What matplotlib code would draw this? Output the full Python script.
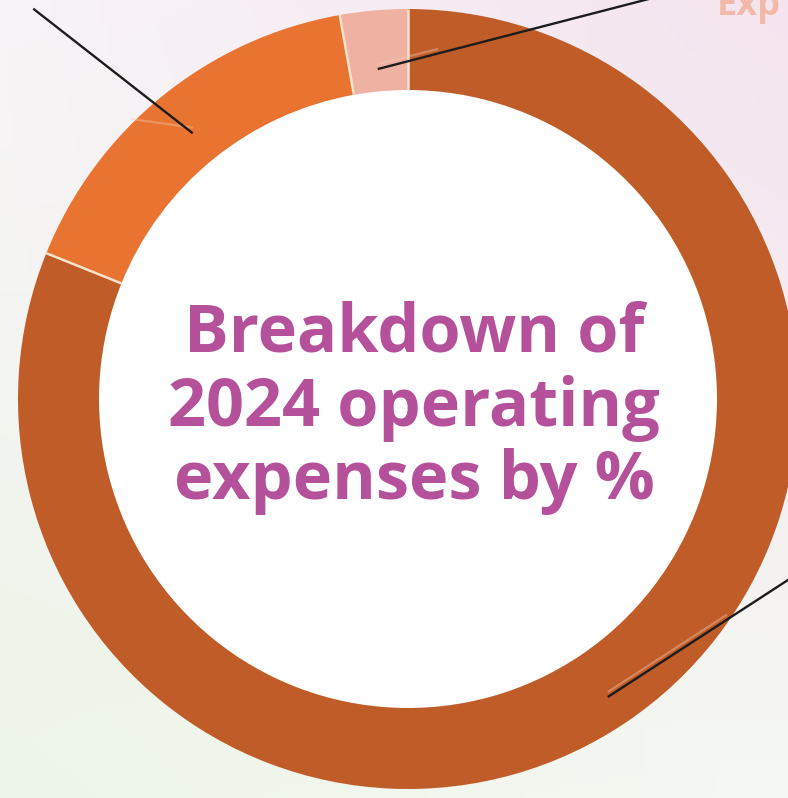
import numpy as np
import matplotlib.pyplot as plt
from matplotlib.colors import to_rgb
from matplotlib.patches import Circle

# expense shares (clockwise from 12 o'clock)
categories = ['Programs', 'Operations', 'Fundraising']
shares = [81.1, 16.1, 2.8]
colors = ['#c05c27', '#e97431', '#efb1a1']

title_lines = ['Breakdown of', '2024 operating', 'expenses by %']
side_label = 'Exp'

W, H = 788, 798
cx, cy = 408, H - 399
R_out, R_in = 390, 309

fig = plt.figure(figsize=(W / 100, H / 100), dpi=100)
ax = fig.add_axes([0, 0, 1, 1])

# soft background gradient (pinkish top right, greenish bottom left)
c_tl = np.array(to_rgb('#f8f4f7'))
c_tr = np.array(to_rgb('#f4e4ef'))
c_bl = np.array(to_rgb('#edf5e8'))
c_br = np.array(to_rgb('#f5f8f3'))
u = np.linspace(0, 1, 200)[None, :, None]
v = np.linspace(0, 1, 200)[:, None, None]
grad = (1 - v) * ((1 - u) * c_tl + u * c_tr) + v * ((1 - u) * c_bl + u * c_br)
ax.imshow(grad, extent=[0, W, 0, H], origin='upper', zorder=0, aspect='auto')

wedges, _ = ax.pie(shares, colors=colors, startangle=90, counterclock=False,
                   center=(cx, cy), radius=R_out,
                   wedgeprops=dict(width=R_out - R_in, linewidth=0))
for w in wedges:
    w.set_zorder(2)

# white hole
ax.add_patch(Circle((cx, cy), R_in, facecolor='white', edgecolor='none', zorder=1.5))

# thin cream separators between segments
for w in wedges:
    a = np.deg2rad(w.theta1)
    ax.plot([cx + R_in * np.cos(a), cx + R_out * np.cos(a)],
            [cy + R_in * np.sin(a), cy + R_out * np.sin(a)],
            color='#f7e2cc', lw=1.8, zorder=3, solid_capstyle='butt')

# leader lines towards labels outside the crop
anchor_frac = [0.92, 0.88, 0.85]
out_angle = [33, 142, 14.5]
out_len = [260, 200, 290]
ghost_angle = [33, 172, 14]
ghost_len = [140, 60, 60]
for w, f, oa, ol, ga, gl in zip(wedges, anchor_frac, out_angle, out_len,
                                ghost_angle, ghost_len):
    m = np.deg2rad((w.theta1 + w.theta2) / 2)
    x0, y0 = cx + f * R_out * np.cos(m), cy + f * R_out * np.sin(m)
    ax.plot([x0, x0 + gl * np.cos(np.deg2rad(ga))],
            [y0 + 5, y0 + 5 + gl * np.sin(np.deg2rad(ga))],
            color='#f3c9b0', lw=1.6, alpha=0.4, zorder=4)
    ax.plot([x0, x0 + ol * np.cos(np.deg2rad(oa))],
            [y0, y0 + ol * np.sin(np.deg2rad(oa))],
            color='#1c1c1c', lw=1.7, zorder=5)

# centre title
title_base = [H - 352, H - 426, H - 499]
for t, yb in zip(title_lines, title_base):
    ax.text(414, yb, t, ha='center', va='baseline', fontsize=48,
            fontweight='bold', color='#b5519b', family=['Open Sans', 'DejaVu Sans'],
            zorder=6)

ax.text(717, H - 15, side_label, ha='left', va='baseline', fontsize=26,
        fontweight='bold', color='#f2b9a8', family=['Open Sans', 'DejaVu Sans'],
        zorder=6)

ax.set_xlim(0, W)
ax.set_ylim(0, H)
ax.set_aspect('auto')
ax.axis('off')

fig.savefig('out.png', dpi=100)
